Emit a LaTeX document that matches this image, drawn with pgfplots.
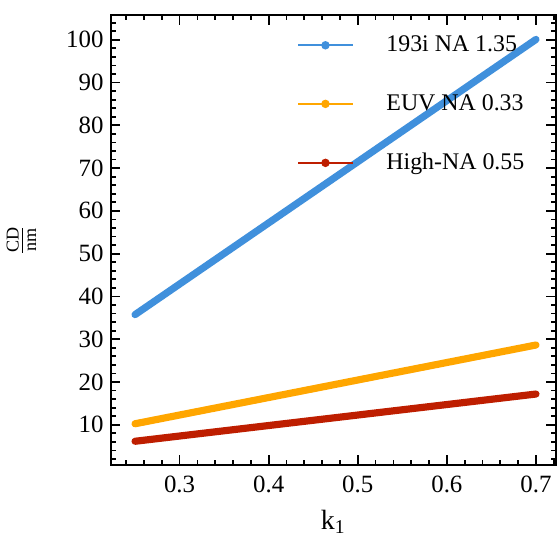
\documentclass[border=0pt]{standalone}
\usepackage{amsmath}
\usepackage{fontspec}
\setmainfont{Liberation Serif}
\usepackage{pgfplots}
\pgfplotsset{compat=1.18}

\definecolor{cblue}{RGB}{64,144,220}
\definecolor{corange}{RGB}{255,166,0}
\definecolor{cred}{RGB}{190,30,0}

\pgfplotsset{
  frame/.style={
    scale only axis,
    width=224pt, height=226.5pt,
    xmin=0.2225, xmax=0.7225,
    ymin=0.5, ymax=105.8,
    every tick/.append style={black, line width=0.9pt},
    axis line style={line width=1pt},
  },
}

\begin{document}
\begin{tikzpicture}
% long tick marks at the labelled values (as minor ticks of a bare axis)
\begin{axis}[
  frame,
  xtick={0.25}, ytick={5},
  xticklabels={}, yticklabels={},
  tickwidth=0pt,
  minor xtick={0.3,0.4,0.5,0.6,0.7},
  minor ytick={10,20,30,40,50,60,70,80,90,100},
  subtickwidth=5pt,
]
\end{axis}
\begin{axis}[
  frame,
  xtick={0.3,0.4,0.5,0.6,0.7},
  xticklabels={0.3,0.4,0.5,0.6,0.7},
  ytick={10,20,30,40,50,60,70,80,90,100},
  yticklabels={10,20,30,40,50,60,70,80,90,100},
  minor xtick={0.24,0.26,0.28,0.32,0.34,0.36,0.38,0.42,0.44,0.46,0.48,0.52,0.54,0.56,0.58,0.62,0.64,0.66,0.68,0.72},
  minor ytick={2,4,6,8,12,14,16,18,22,24,26,28,32,34,36,38,42,44,46,48,52,54,56,58,62,64,66,68,72,74,76,78,82,84,86,88,92,94,96,98,102,104},
  tickwidth=5pt, subtickwidth=2.5pt,
  ticklabel style={font=\fontsize{12.5}{14}\selectfont},
  xticklabel style={yshift=-2pt},
  xlabel={k$_{\text{1}}$},
  ylabel={$\frac{\text{CD}}{\text{nm}}$},
  every axis x label/.style={at={(0.5,-0.125)}, anchor=center, font=\fontsize{14}{16}\selectfont},
  every axis y label/.style={at={(-0.2,0.5)}, anchor=center, rotate=90, font=\fontsize{13}{15}\selectfont},
  legend cell align=left,
  legend style={draw=none, fill=none, at={(0.405,0.972)}, anchor=north west,
    row sep=16pt, font=\fontsize{12}{14}\selectfont},
  legend image code/.code={
    \draw[mark repeat=2, mark phase=2, #1] plot coordinates {(0pt,0pt) (13.75pt,0pt) (27.5pt,0pt)};
    \path (42pt,0pt);
  },
]
\addplot[cblue, line width=3.6pt, line cap=round, forget plot] coordinates {(0.25,35.74)(0.70,100.07)};
\addplot[corange, line width=3.6pt, line cap=round, forget plot] coordinates {(0.25,10.23)(0.70,28.64)};
\addplot[cred, line width=3.6pt, line cap=round, forget plot] coordinates {(0.25,6.14)(0.70,17.18)};

\addlegendimage{cblue, line width=0.8pt, mark=*, mark size=1.7pt}
\addlegendentry{193i NA 1.35}
\addlegendimage{corange, line width=0.8pt, mark=*, mark size=1.7pt}
\addlegendentry{EUV NA 0.33}
\addlegendimage{cred, line width=0.8pt, mark=*, mark size=1.7pt}
\addlegendentry{High-NA 0.55}
\end{axis}
\path[use as bounding box] (current axis.south west) ++(-54pt,-35pt) rectangle ([xshift=2pt,yshift=7.5pt]current axis.north east);
\end{tikzpicture}
\end{document}
